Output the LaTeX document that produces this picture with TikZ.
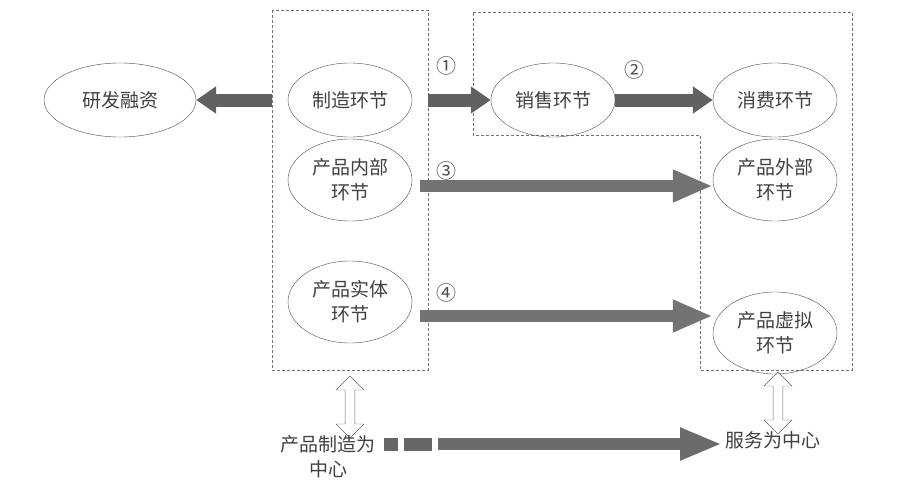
\documentclass[tikz,border=0pt]{standalone}
\usepackage{fontspec}
\setmainfont{Noto Sans CJK SC}
\usetikzlibrary{arrows.meta,shapes.arrows,shapes.geometric}
\begin{document}
\begin{tikzpicture}[x=1pt,y=-1pt,
 ell/.style={draw=black!70,ellipse,minimum width=124pt,minimum height=74pt,align=center,font=\fontsize{19}{25}\selectfont,text=black!75,inner sep=0pt},
 blk/.style={line width=13pt,draw=black!62,-{Triangle[width=26pt,length=20pt]}},
 box/.style={draw=black!55,dashed,dash pattern=on 3pt off 2pt,line width=0.6pt},
 lbl/.style={font=\fontsize{20}{22}\selectfont,text=black!70},
 txt/.style={font=\fontsize{19}{25}\selectfont,text=black!75},
 dbl/.style={double arrow,draw=black!60,rotate=90,minimum height=62pt,minimum width=28pt,double arrow head extend=6pt,inner sep=3pt}]
\useasboundingbox (0,0) rectangle (911,496);
\draw[box] (272,10) rectangle (428,370);
\draw[box] (473,12) -- (852,12) -- (852,370) -- (700,370) -- (700,135) -- (473,135) -- cycle;
\node[ell,minimum width=152pt] (rd) at (120,100) {研发融资};
\node[ell] (mf) at (350,100) {制造环节};
\node[ell] (sl) at (553,100) {销售环节};
\node[ell] (cs) at (775,100) {消费环节};
\node[ell,minimum height=82pt] (in) at (350,180) {产品内部\\环节};
\node[ell,minimum height=82pt] (out) at (775,180) {产品外部\\环节};
\node[ell,minimum height=82pt] (ph) at (350,302) {产品实体\\环节};
\node[ell,minimum height=82pt] (vt) at (775,333) {产品虚拟\\环节};
\draw[blk] (272,100) -- (rd.east);
\draw[blk] (428,100) -- (sl.west);
\draw[blk] (sl.east) -- (cs.west);
\draw[blk,line width=12pt,draw=black!55,-{Triangle[width=30pt,length=40pt]}] (420,186) -- (out.west|-0,186);
\draw[blk,line width=12pt,draw=black!55,-{Triangle[width=30pt,length=40pt]}] (420,316) -- (vt.west|-0,316);
\node[lbl] at (446,66) {①};
\node[lbl] at (634,70) {②};
\node[lbl] at (446,171) {③};
\node[lbl] at (446,293) {④};
\node[dbl] (d1) at (350,407) {};
\node[dbl] (d2) at (778,403) {};
\node[txt,align=center] (pm) at (328,457) {产品制造为\\中心};
\node[txt,anchor=west] (sv) at (722,440) {服务为中心};
\fill[black!60] (384,438) rectangle (398,451);
\fill[black!60] (404,438) rectangle (432,451);
\draw[blk,line width=12pt,draw=black!58,-{Triangle[width=30pt,length=42pt]}] (438,444) -- (sv.west|-0,444);
\end{tikzpicture}
\end{document}
